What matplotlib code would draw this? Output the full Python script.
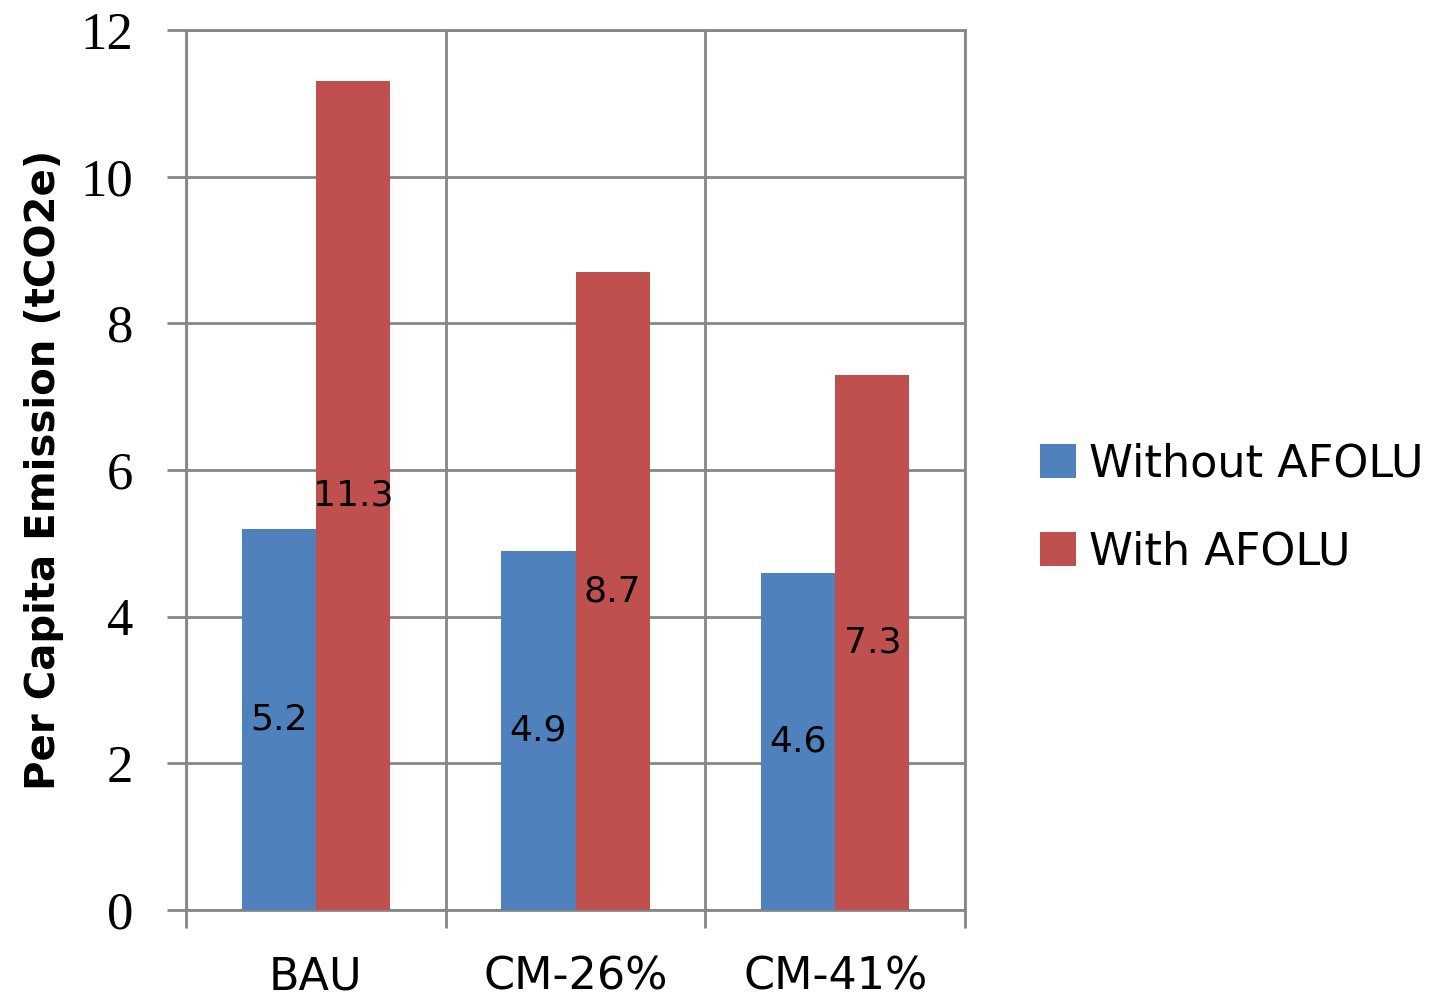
import matplotlib
import matplotlib.pyplot as plt
import numpy as np

matplotlib.use("Agg")

# 一人当たり排出量 (tCO2e)
scenarios = ["BAU", "CM-26%", "CM-41%"]
without_afolu = [5.2, 4.9, 4.6]
with_afolu = [11.3, 8.7, 7.3]
series_names = ["Without AFOLU", "With AFOLU"]
y_ticks = [0, 2, 4, 6, 8, 10, 12]

BLUE = "#4F81BD"
RED = "#C0504D"
GRID = "#868686"

fig = plt.figure(figsize=(14.35, 10.02), dpi=100)
ax = fig.add_axes([0.1296, 0.0918, 0.5429, 0.8782])

x = np.arange(len(scenarios))
w = 1 / 3.5  # gap width 150%
b1 = ax.bar(x - w / 2, without_afolu, w, color=BLUE, label=series_names[0], zorder=3)
b2 = ax.bar(x + w / 2, with_afolu, w, color=RED, label=series_names[1], zorder=3)

for bars, vals in ((b1, without_afolu), (b2, with_afolu)):
    for r, v in zip(bars, vals):
        ax.text(r.get_x() + r.get_width() / 2, v / 2, f"{v:.1f}",
                ha="center", va="center", fontsize=26, color="black", zorder=4)

ax.set_xlim(-0.5, len(scenarios) - 0.5)
ax.set_ylim(0, 12)
ax.set_yticks(y_ticks)
ax.set_yticklabels([str(t) for t in y_ticks], family="Liberation Serif", fontsize=38)

# カテゴリ境界に目盛り・縦グリッド
ax.set_xticks(np.arange(-0.5, len(scenarios), 1.0))
ax.set_xticklabels([])
ax.set_xticks(x, minor=True)
ax.set_xticklabels(scenarios, minor=True, fontsize=32)
ax.tick_params(axis="x", which="minor", length=0, pad=33)
ax.tick_params(axis="x", which="major", length=13, width=2, color=GRID)
ax.tick_params(axis="y", length=14, width=2, color=GRID, pad=24)

ax.grid(True, which="major", color=GRID, linewidth=2, zorder=0)
for s in ax.spines.values():
    s.set_color(GRID)
    s.set_linewidth(2)

ax.set_ylabel("Per Capita Emission (tCO2e)", fontsize=29, fontweight="bold", labelpad=12)

ax.legend(loc="center left", bbox_to_anchor=(1.045, 0.457), frameon=False,
          fontsize=32, handlelength=0.8, handleheight=0.8, handletextpad=0.3,
          labelspacing=1.0)

fig.savefig("out.png", dpi=100)
